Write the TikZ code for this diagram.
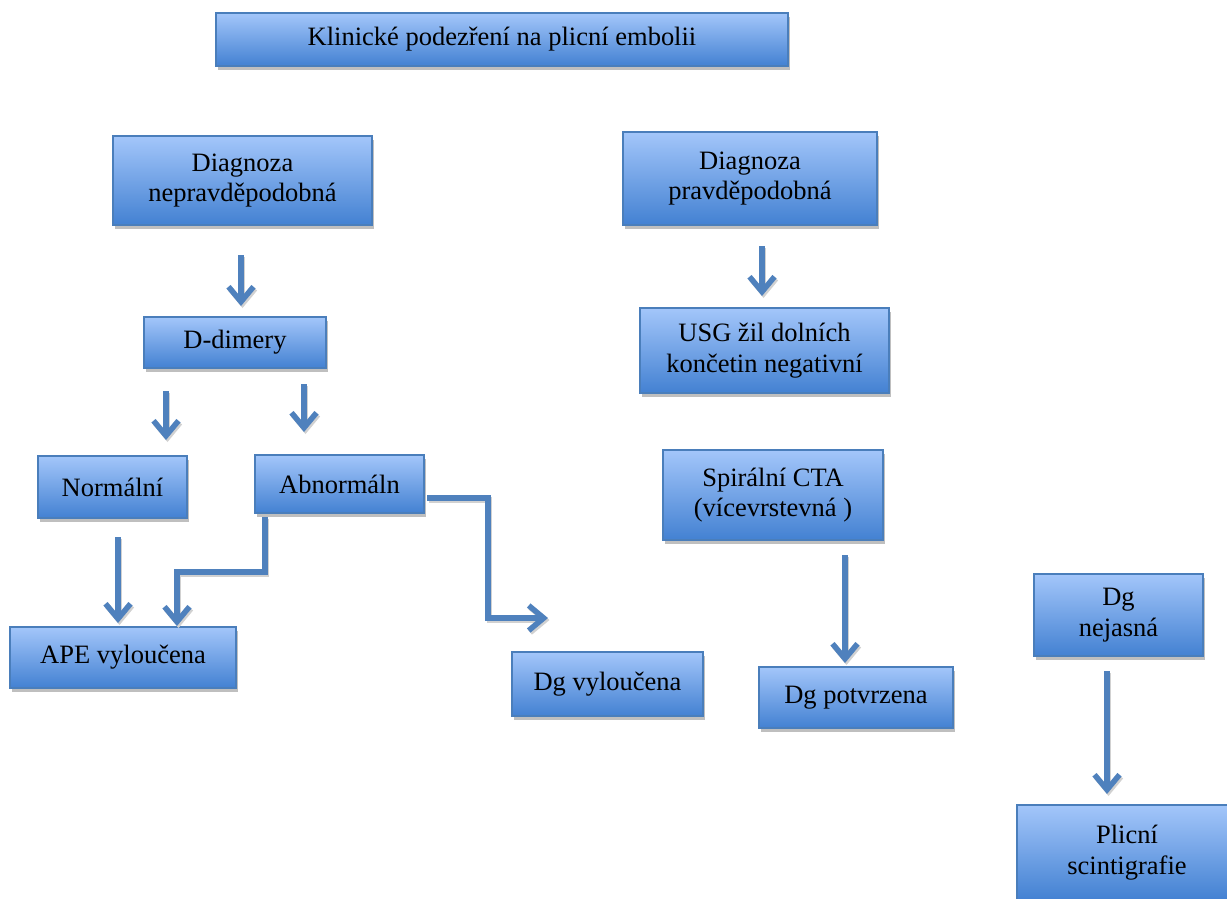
\documentclass[tikz,border=0pt]{standalone}
\usepackage{fontspec}
\setmainfont{Liberation Serif}
\usetikzlibrary{arrows.meta,shadows}
\definecolor{boxtop}{HTML}{A3C6FA}
\definecolor{boxbot}{HTML}{4381D2}
\definecolor{boxline}{HTML}{4A7EBB}
\definecolor{arrowc}{HTML}{4F81BD}
\tikzset{
  box/.style={draw=boxline, line width=1.2pt, top color=boxtop, bottom color=boxbot,
    drop shadow={shadow xshift=2pt, shadow yshift=-4pt, fill=black!25, opacity=1},
    align=center, inner sep=0pt, font=\fontsize{26.5}{30.5}\selectfont},
  conn/.style={draw=arrowc, line width=5.5pt, -{Straight Barb[length=15pt,width=25pt]},
    preaction={draw=black!18, line width=5.5pt, -{Straight Barb[length=15pt,width=25pt]}, transform canvas={shift={(1.5pt,-2pt)}}}},
}
\begin{document}
\begin{tikzpicture}[x=1pt,y=-1pt]
\useasboundingbox (0,0) rectangle (1227,898);
% boxes
\node[box, minimum width=572pt, minimum height=53pt] (top) at (502,39.5) {Klinické podezření na plicní embolii};
\node[box, minimum width=259pt, minimum height=89pt] (dnp) at (242.5,180.5) {Diagnoza\\nepravděpodobná};
\node[box, minimum width=254pt, minimum height=93pt] (dp) at (750,178.5) {Diagnoza\\pravděpodobná};
\node[box, minimum width=182pt, minimum height=51pt] (dd) at (235,342.5) {D-dimery};
\node[box, minimum width=249pt, minimum height=85pt] (usg) at (764.5,350.5) {USG žil dolních\\končetin negativní};
\node[box, minimum width=149pt, minimum height=62pt] (norm) at (112.5,487) {Normální};
\node[box, minimum width=169pt, minimum height=58pt] (abn) at (339.5,484) {Abnormáln};
\node[box, minimum width=220pt, minimum height=90pt] (cta) at (773,495) {Spirální CTA\\(vícevrstevná )};
\node[box, minimum width=226pt, minimum height=61pt] (ape) at (123,657.5) {APE vyloučena};
\node[box, minimum width=191pt, minimum height=64pt] (dgv) at (607.5,684) {Dg vyloučena};
\node[box, minimum width=194pt, minimum height=61pt] (dgp) at (856,697.5) {Dg potvrzena};
\node[box, minimum width=169pt, minimum height=82pt] (dgn) at (1118.5,615) {Dg\\nejasná};
\node[box, minimum width=220pt, minimum height=95pt] (plic) at (1127,852.5) {Plicní\\scintigrafie};
% connector end points
\coordinate (a1s) at (241,255);  \coordinate (a1e) at (241,306);
\coordinate (a2s) at (166,391);  \coordinate (a2e) at (166,440);
\coordinate (a3s) at (304,384);  \coordinate (a3e) at (304,432);
\coordinate (a4s) at (762,246);  \coordinate (a4e) at (762,296);
\coordinate (a5s) at (118,537);  \coordinate (a5e) at (118,623);
\coordinate (a6s) at (265,517);  \coordinate (a6a) at (265,572); \coordinate (a6b) at (177,572); \coordinate (a6e) at (177,626);
\coordinate (a7s) at (427,498);  \coordinate (a7a) at (488,498); \coordinate (a7b) at (488,618); \coordinate (a7e) at (548,618);
\coordinate (a8s) at (845,555);  \coordinate (a8e) at (845,663);
\coordinate (a9s) at (1107,671); \coordinate (a9e) at (1107,794);
% connectors
\draw[conn] (a1s) -- (a1e);
\draw[conn] (a2s) -- (a2e);
\draw[conn] (a3s) -- (a3e);
\draw[conn] (a4s) -- (a4e);
\draw[conn] (a5s) -- (a5e);
\draw[conn] (a6s) -- (a6a) -- (a6b) -- (a6e);
\draw[conn] (a7s) -- (a7a) -- (a7b) -- (a7e);
\draw[conn] (a8s) -- (a8e);
\draw[conn] (a9s) -- (a9e);
\end{tikzpicture}
\end{document}
